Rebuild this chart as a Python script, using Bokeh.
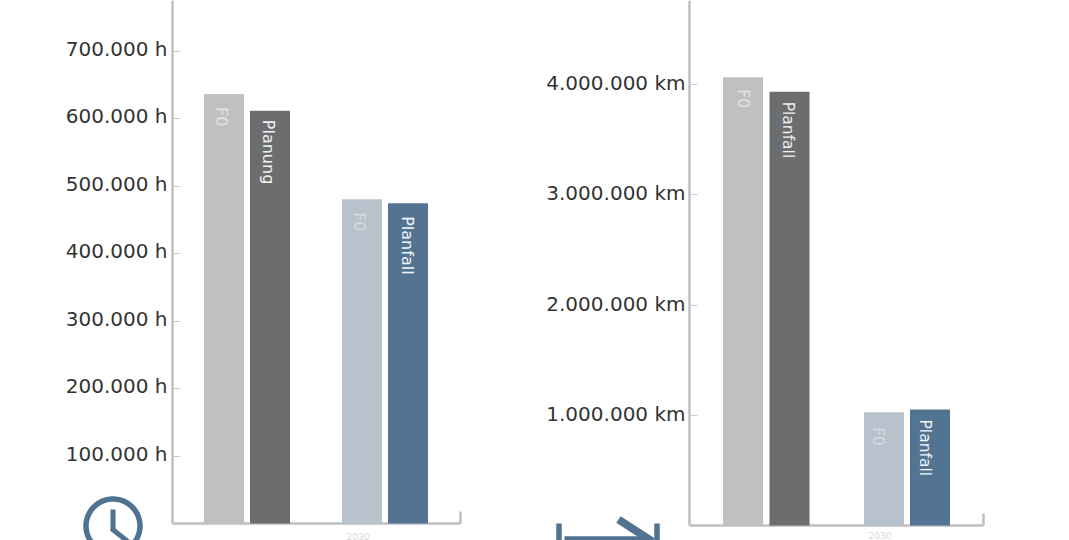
import numpy as np
from bokeh.embed import file_html
from bokeh.resources import INLINE
from bokeh.models import ColumnDataSource, FixedTicker, LinearAxis, Range1d
from bokeh.plotting import figure
from bokeh.core.properties import value

FONT = "DejaVu Sans"
AXIS_GREY = "#bdbfc0"
TICK_GREY = "#c9cbcc"
TEXT_DARK = "#333333"
ICON_BLUE = "#4f7391"

# Operating hours per year
hours_labels = ["F0", "Planung", "F0", "Planfall"]
hours_values = [637000, 612000, 481000, 475000]
hours_ticks = [100000, 200000, 300000, 400000, 500000, 600000, 700000]
hours_tick_labels = ["100.000 h", "200.000 h", "300.000 h", "400.000 h", "500.000 h", "600.000 h", "700.000 h"]

# Vehicle kilometres per year
km_labels = ["F0", "Planfall", "F0", "Planfall"]
km_values = [4065000, 3935000, 1028000, 1052000]
km_ticks = [1000000, 2000000, 3000000, 4000000]
km_tick_labels = ["1.000.000 km", "2.000.000 km", "3.000.000 km", "4.000.000 km"]

group_label = "2030"
bar_colors = ["#bfc1c1", "#6c6d6f", "#b8c2cc", "#527492"]
label_colors = ["#e2e3e3", "#f2f2f2", "#d4dae0", "#f2f5f7"]

W, H = 1069, 540

# The frame fills the page; the horizontal scale runs in page pixels, and each
# panel has its own value range placed so that its axes sit at the right height.
p = figure(width=W, height=H, output_backend="svg", toolbar_location=None,
           x_range=Range1d(0, W), y_range=Range1d(540, 0),
           x_axis_location=None, y_axis_location=None,
           min_border=0, min_border_left=0, min_border_right=0,
           min_border_top=0, min_border_bottom=0)
p.outline_line_color = None
p.grid.visible = False


def add_panel(name, zero_px, px_per_unit, axis_x, axis_end, standoff, lift,
              ticks, tick_labels, labels, values, centers, label_dx, label_dy, label_size, caption_gap):
    top_value = zero_px / px_per_unit
    p.extra_y_ranges[name] = Range1d(-(H - zero_px) / px_per_unit, top_value)

    ya = LinearAxis(y_range_name=name, fixed_location=axis_x, bounds=(0, top_value),
                    ticker=FixedTicker(ticks=ticks))
    ya.major_label_text_color = None
    ya.axis_line_color = AXIS_GREY
    ya.axis_line_width = 2.5
    ya.major_tick_line_color = TICK_GREY
    ya.major_tick_in = 8
    ya.major_tick_out = 0
    ya.minor_tick_line_color = None
    p.add_layout(ya, "left")

    xa = LinearAxis(y_range_name=name, fixed_location=0, bounds=(axis_x, axis_end),
                    ticker=FixedTicker(ticks=[]))
    xa.axis_line_color = AXIS_GREY
    xa.axis_line_width = 2.5
    xa.major_tick_line_color = None
    xa.minor_tick_line_color = None
    xa.major_label_text_color = None
    p.add_layout(xa, "below")

    # Closing tick at the right end of the baseline
    p.segment(x0=[axis_end], x1=[axis_end], y0=[0], y1=[12 / px_per_unit], y_range_name=name,
              line_color=AXIS_GREY, line_width=2.5)

    # Tick labels sit slightly above their ticks
    tick_src = ColumnDataSource(dict(y=ticks, text=tick_labels, x=[axis_x] * len(ticks)))
    p.text(x="x", y="y", text="text", source=tick_src, y_range_name=name,
           text_font=value(FONT), text_font_size="20px", text_color=TEXT_DARK,
           text_align="right", text_baseline="middle", x_offset=-standoff, y_offset=-lift)

    src = ColumnDataSource(dict(x=centers, top=values, color=bar_colors, label=labels,
                                text_color=label_colors, dx=label_dx, dy=label_dy))
    p.vbar(x="x", top="top", bottom=0, width=40, source=src, fill_color="color",
           line_color=None, level="annotation", y_range_name=name)
    p.text(x="x", y="top", text="label", angle=-np.pi / 2, source=src, text_color="text_color",
           text_font=value(FONT), text_font_size=label_size, text_align="left",
           text_baseline="middle", x_offset="dx", y_offset="dy", level="annotation",
           y_range_name=name)

    # Faint period caption under the lighter bar of the second group
    p.text(x=[centers[2] - 4], y=[0], text=[group_label], y_range_name=name,
           text_font=value(FONT), text_font_size="9px", text_color="#d5dade",
           text_align="center", text_baseline="top", y_offset=caption_gap)


add_panel("hours", 523, 67.43 / 100000, 172, 460, 5, 2.5, hours_ticks, hours_tick_labels,
          hours_labels, hours_values, [223.5, 269.5, 361.5, 407.5], [-3, -2, -3, -1], [13, 9, 13, 13], "16px", 9)
add_panel("km", 525, 110.25 / 1000000, 689, 983, 4, 1.5, km_ticks, km_tick_labels,
          km_labels, km_values, [742.5, 789, 883.5, 929.5], [0, -2, -6, -5], [12, 10, 15, 10], "15.5px", 6)

# Clock icon below the hours axis
theta = np.linspace(0, 2 * np.pi, 73)
p.line(112.5 + 27 * np.cos(theta), 525.5 + 27 * np.sin(theta), line_color=ICON_BLUE, line_width=5.5)
p.line([112.5, 112.5], [509, 530], line_color=ICON_BLUE, line_width=5)
p.line([111, 131], [528, 544], line_color=ICON_BLUE, line_width=5)

# Distance icon below the kilometre axis
p.line([558.5, 558.5], [523, 545], line_color=ICON_BLUE, line_width=5.5)
p.line([656.5, 656.5], [523, 545], line_color=ICON_BLUE, line_width=5.5)
p.line([564, 650], [539, 539], line_color=ICON_BLUE, line_width=6.5)
p.line([618, 652], [519, 541], line_color=ICON_BLUE, line_width=8)

open("out.html", "w").write(file_html(p, INLINE))
